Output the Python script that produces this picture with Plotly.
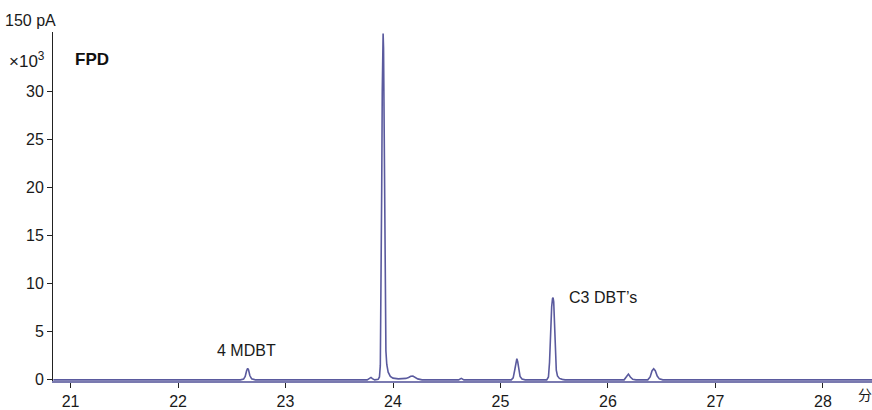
import plotly.graph_objects as go

# FPD chromatogram trace: retention time (min) vs signal (x10^3)
time_min = [
    20.84, 22.58, 22.61, 22.625, 22.638, 22.648, 22.656, 22.668, 22.685, 22.72,
    23.76, 23.782, 23.795, 23.808, 23.83,
    23.862, 23.874, 23.882, 23.889, 23.895, 23.9, 23.904, 23.908, 23.912, 23.917,
    23.922, 23.928, 23.934, 23.942, 23.955, 23.975, 24.0, 24.05, 24.09, 24.12,
    24.145, 24.165, 24.185, 24.205, 24.23, 24.27,
    24.61, 24.635, 24.66,
    25.1, 25.118, 25.132, 25.143, 25.152, 25.16, 25.17, 25.182, 25.2, 25.23,
    25.43, 25.446, 25.456, 25.466, 25.476, 25.484, 25.489, 25.495, 25.503, 25.511,
    25.519, 25.53, 25.548, 25.575, 25.6,
    26.15, 26.172, 26.19, 26.208, 26.23, 26.26,
    26.37, 26.392, 26.41, 26.425, 26.44, 26.458, 26.478, 26.51,
    28.46,
]
signal_k = [
    0.0, 0.0, 0.08, 0.35, 0.95, 1.2, 1.05, 0.45, 0.1, 0.0,
    0.0, 0.15, 0.25, 0.12, 0.0,
    0.05, 0.3, 1.5, 8.0, 20.0, 30.0, 35.0, 36.0, 34.5, 27.0,
    16.0, 7.0, 3.0, 1.6, 0.8, 0.35, 0.18, 0.1, 0.12, 0.15,
    0.25, 0.38, 0.4, 0.25, 0.1, 0.0,
    0.0, 0.15, 0.0,
    0.0, 0.2, 1.0, 1.9, 2.2, 1.9, 1.0, 0.35, 0.08, 0.0,
    0.0, 0.3, 1.8, 5.0, 7.6, 8.45, 8.55, 8.1, 5.6, 2.6,
    1.0, 0.4, 0.15, 0.05, 0.0,
    0.0, 0.28, 0.6, 0.3, 0.06, 0.0,
    0.0, 0.3, 0.95, 1.15, 0.95, 0.4, 0.1, 0.0,
    0.0,
]

x_ticks = [21, 22, 23, 24, 25, 26, 27, 28]
y_ticks = [0, 5, 10, 15, 20, 25, 30]

peak_names = ["4 MDBT", "4,6 DMDBT", "C3 DBT\u2019s"]
peak_times = [22.633, 23.907, 25.62]
peak_label_y = [3.0, 37.7, 8.6]
peak_anchor = ["center", "center", "left"]

FONT = "Liberation Sans, Arial, sans-serif"
LINE = "#5a5a9e"

fig = go.Figure()
fig.add_trace(go.Scatter(
    x=time_min, y=signal_k, mode="lines",
    line=dict(color=LINE, width=1.6),
    hoverinfo="skip", showlegend=False, cliponaxis=False,
))

for name, t, yv, anc in zip(peak_names, peak_times, peak_label_y, peak_anchor):
    fig.add_annotation(x=t, y=yv, xref="x", yref="y", text=name, showarrow=False,
                       xanchor=anc, yanchor="middle",
                       font=dict(family=FONT, size=16, color="#1a1a1a"))

fig.add_annotation(x=-0.028, y=1.034, xref="paper", yref="paper", text="150 pA",
                   showarrow=False, xanchor="center", yanchor="middle",
                   font=dict(family=FONT, size=16, color="#1a1a1a"))
fig.add_annotation(x=-0.0075, y=0.921, xref="paper", yref="paper",
                   text="\u00d710<sup>3</sup>", showarrow=False,
                   xanchor="right", yanchor="middle",
                   font=dict(family=FONT, size=17, color="#1a1a1a"))
fig.add_annotation(x=0.0244, y=0.921, xref="paper", yref="paper",
                   text="<b>FPD</b>", showarrow=False,
                   xanchor="left", yanchor="middle",
                   font=dict(family=FONT, size=17, color="#111111"))
fig.add_annotation(x=0.9805, y=-0.038, xref="paper", yref="paper",
                   text="\u5206", showarrow=False,
                   xanchor="left", yanchor="middle",
                   font=dict(family="Noto Sans CJK SC", size=14, color="#1a1a1a"))

fig.update_xaxes(
    range=[20.837, 28.456], tickvals=x_ticks, ticktext=[str(v) for v in x_ticks],
    ticks="outside", ticklen=5, tickcolor="#222", tickwidth=1,
    showline=True, linecolor="#7a7ab0", linewidth=2,
    showgrid=False, zeroline=False,
    tickfont=dict(family=FONT, size=16, color="#1a1a1a"),
)
fig.update_yaxes(
    range=[-0.12, 36.16], tickvals=y_ticks, ticktext=[str(v) for v in y_ticks],
    ticks="outside", ticklen=5, tickcolor="#222", tickwidth=1,
    showline=True, linecolor="#222", linewidth=1,
    showgrid=False, zeroline=False,
    tickfont=dict(family=FONT, size=16, color="#1a1a1a"),
)
fig.update_layout(
    width=872, height=410,
    margin=dict(l=53, r=0, t=32, b=26),
    paper_bgcolor="white", plot_bgcolor="white",
    showlegend=False,
)

fig.write_html("out.html")
